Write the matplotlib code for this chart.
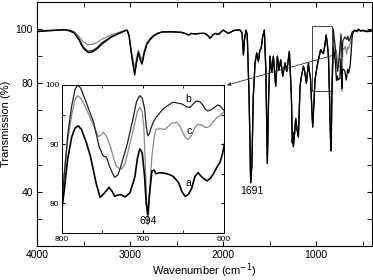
import matplotlib
matplotlib.use("Agg")
import matplotlib.pyplot as plt
from matplotlib.ticker import MultipleLocator, FixedLocator

plt.rcParams['font.family'] = ['Liberation Sans', 'DejaVu Sans']

# ---------------- main spectrum data (wavenumber, %T) ----------------
# high-frequency region (per curve)
hf_w = [4000, 3900, 3800, 3700, 3650, 3600, 3550, 3500, 3450, 3400, 3350, 3300, 3200, 3100, 3050, 3030,
        3010, 2980, 2950, 2930, 2910, 2890, 2870, 2850, 2820, 2790, 2750, 2700, 2650]
hf_a = [99.0, 99.3, 99.5, 99.7, 99.3, 98.5, 96.0, 92.8, 91.3, 91.6, 92.8, 94.5, 97.0, 98.6, 99.4, 99.5,
        97.3, 89.5, 83.0, 87.5, 91.3, 88.5, 87.0, 90.5, 94.2, 95.8, 97.3, 98.4, 98.9]
hf_b = [99.2, 99.4, 99.6, 99.8, 99.5, 98.8, 96.5, 93.3, 91.8, 92.1, 93.3, 95.0, 97.3, 98.8, 99.5, 99.6,
        97.5, 90.0, 83.5, 88.0, 91.5, 89.0, 87.5, 91.0, 94.5, 96.0, 97.5, 98.5, 99.0]
hf_c = [99.3, 99.5, 99.7, 99.8, 99.6, 99.0, 97.3, 95.2, 94.2, 94.4, 95.2, 96.3, 97.9, 99.0, 99.5, 99.6,
        97.8, 91.0, 85.5, 89.5, 92.3, 90.0, 88.8, 91.8, 95.0, 96.3, 97.7, 98.6, 99.0]

# fingerprint region (curves overlap)
fp_w = [2550, 2450, 2400, 2370, 2340, 2300, 2250, 2194, 2160, 2140, 2110, 2086, 2050, 2020, 1996, 1970,
        1943, 1900, 1871, 1817, 1795, 1781, 1770, 1753, 1740, 1720, 1703, 1690, 1675, 1656, 1638, 1620,
        1605, 1590, 1575, 1556, 1540, 1524, 1510, 1495, 1477, 1459, 1434, 1416, 1398, 1380, 1358, 1333,
        1315, 1287, 1265, 1255, 1250, 1244, 1230, 1219, 1205, 1190, 1172, 1160, 1136, 1120, 1104, 1082,
        1075, 1060, 1045, 1036, 1025, 1011, 990, 975, 950, 935, 921, 905, 892, 880, 867, 855, 845]
fp_t = [99.0, 98.8, 98.3, 97.8, 98.4, 98.2, 98.4, 98.4, 97.5, 96.6, 97.8, 98.4, 98.0, 99.0, 99.6, 99.0,
        98.4, 99.2, 99.6, 99.6, 98.5, 90.5, 96.0, 99.6, 98.0, 75.0, 43.3, 50.0, 75.0, 87.5, 91.2, 88.0,
        92.0, 93.0, 97.0, 99.6, 85.0, 50.5, 75.0, 90.0, 84.0, 90.0, 79.0, 90.0, 85.0, 88.7, 82.7, 87.5,
        84.4, 91.8, 75.0, 58.0, 62.0, 56.6, 62.0, 67.0, 63.0, 60.2, 79.0, 82.0, 86.3, 84.0, 80.0, 87.5,
        85.0, 82.0, 70.0, 63.9, 72.0, 81.5, 86.0, 88.7, 92.4, 91.5, 91.0, 94.0, 97.8, 95.0, 90.0, 75.0, 60.0]

# boxed region and tail (per curve)
lo_w_b = [838, 828, 814, 795, 781, 767, 752, 732, 722, 712, 691, 670, 658, 648, 633, 625, 610, 590,
          580, 560, 545, 520, 500, 450, 400]
lo_b = [56.0, 80.0, 100.0, 93.5, 88.0, 84.4, 89.7, 98.2, 89.7, 95.6, 97.1, 96.2, 97.3, 95.6, 96.5, 97.5,
        99.0, 99.5, 99.6, 99.3, 100.0, 99.4, 99.6, 99.3, 99.5]
lo_w_c = [838, 828, 814, 795, 781, 761, 754, 732, 722, 712, 701, 686, 672, 660, 649, 633, 625, 610, 590,
          580, 560, 545, 520, 500, 450, 400]
lo_c = [58.0, 82.0, 98.2, 93.1, 92.0, 86.3, 85.8, 96.2, 77.0, 92.8, 92.5, 93.7, 90.8, 93.4, 92.8, 94.8,
        96.0, 99.0, 99.5, 99.5, 99.2, 99.8, 99.3, 99.5, 99.2, 99.4]
lo_w_a = [838, 828, 812, 793, 781, 770, 763, 756, 744, 732, 722, 717, 707, 691, 676, 660, 649, 633, 625,
          610, 590, 580, 560, 545, 520, 500, 450, 400]
lo_a = [55.0, 79.0, 93.1, 88.0, 81.0, 82.7, 81.2, 81.5, 81.8, 89.2, 78.1, 84.9, 85.2, 84.6, 81.2, 85.2,
        83.8, 86.9, 90.3, 98.0, 99.3, 99.4, 99.0, 99.7, 99.2, 99.4, 99.0, 99.3]

main_w_a = hf_w + fp_w + lo_w_a
main_w_b = hf_w + fp_w + lo_w_b
main_w_c = hf_w + fp_w + lo_w_c
main_t_a = hf_a + fp_t + lo_a
main_t_b = hf_b + fp_t + lo_b
main_t_c = hf_c + fp_t + lo_c

# ---------------- inset data (800-600 cm-1) ----------------
in_w_a = [800, 797, 793, 788, 784, 780, 776, 770, 765, 758, 753, 748, 742, 738, 735, 731, 728, 725, 722,
          716, 710, 707, 704, 701, 698, 696, 694, 692, 689, 686, 684, 679, 670, 663, 656, 652, 648, 644,
          640, 636, 632, 629, 626, 621, 617, 613, 608, 605, 602, 599]
in_a = [79.0, 82.5, 87.5, 91.2, 92.7, 93.1, 92.5, 90.3, 88.0, 83.5, 81.0, 81.7, 82.7, 82.0, 81.2, 81.4,
        81.5, 81.3, 81.1, 81.8, 84.5, 87.5, 89.2, 88.6, 84.5, 80.0, 78.1, 81.5, 85.5, 85.6, 85.0, 85.2,
        85.0, 84.6, 83.5, 82.0, 81.2, 81.5, 82.5, 84.5, 85.2, 84.7, 84.3, 83.8, 84.2, 85.0, 86.3, 86.9,
        88.3, 90.3]
in_w_b = [800, 797, 793, 788, 784, 781, 777, 770, 761, 754, 749, 745, 742, 738, 735, 731, 728, 720, 712,
          708, 704, 701, 698, 696, 694, 692, 690, 687, 684, 675, 663, 652, 646, 642, 638, 634, 630, 626,
          623, 620, 616, 612, 608, 605, 602, 599]
in_b = [80.5, 85.0, 91.5, 96.5, 99.2, 100.0, 99.5, 97.0, 93.7, 89.5, 88.0, 87.8, 86.5, 85.2, 84.4, 84.8,
        86.0, 89.7, 94.5, 97.2, 98.2, 97.8, 96.0, 93.0, 91.4, 91.8, 92.8, 93.8, 94.5, 96.0, 97.1, 96.8,
        96.3, 96.2, 96.8, 97.3, 97.2, 96.6, 95.9, 95.6, 95.8, 96.2, 96.6, 96.5, 96.0, 95.6]
in_w_c = [800, 797, 793, 788, 784, 781, 777, 770, 761, 755, 752, 749, 745, 740, 736, 733, 729, 726, 722,
          718, 711, 707, 704, 701, 699, 697, 695, 694, 693, 691, 689, 686, 684, 679, 673, 665, 658, 654,
          651, 647, 644, 640, 636, 632, 627, 624, 621, 617, 613, 609, 605, 602, 599]
in_c = [82.0, 85.5, 90.5, 95.0, 97.5, 98.2, 97.8, 96.0, 93.1, 91.3, 91.5, 92.0, 91.3, 89.5, 87.5, 86.3,
        85.9, 85.8, 86.8, 89.0, 93.0, 95.5, 96.2, 95.5, 93.0, 86.0, 78.5, 76.4, 78.5, 84.0, 88.0, 91.3,
        92.5, 92.6, 92.5, 93.5, 93.7, 93.0, 92.0, 91.0, 90.8, 91.5, 92.8, 93.4, 93.2, 92.9, 92.8, 93.1,
        93.8, 94.5, 94.8, 95.2, 95.6]

main_xticks = [4000, 3000, 2000, 1000]
main_yticks = [40, 60, 80, 100]
inset_xticks = [800, 700, 600]
inset_yticks = [80, 90, 100]

GREY = '#8a8a8a'

fig = plt.figure(figsize=(3.73, 2.80), dpi=100)
ax = fig.add_axes([0.0992, 0.1214, 0.8978, 0.8716])

ax.plot(main_w_c, main_t_c, color=GREY, lw=0.9)
ax.plot(main_w_b, main_t_b, color='#202020', lw=0.9)
ax.plot(main_w_a, main_t_a, color='black', lw=0.9)

ax.set_xlim(4000, 400)
ax.set_ylim(20, 110)
ax.xaxis.set_major_locator(FixedLocator(main_xticks))
ax.xaxis.set_minor_locator(MultipleLocator(500))
ax.yaxis.set_major_locator(FixedLocator(main_yticks))
ax.yaxis.set_minor_locator(MultipleLocator(10))
ax.tick_params(which='both', direction='in', top=True, right=True, labelsize=7.5, pad=3)
ax.tick_params(which='major', length=3.5)
ax.tick_params(which='minor', length=3.5)
ax.set_xlabel('Wavenumber (cm$^{-1}$)', fontsize=8, labelpad=1)
ax.set_ylabel('Transmission (%)', fontsize=8, labelpad=3)
for s in ax.spines.values():
    s.set_linewidth(0.8)

ax.text(1688, 40.3, '1691', fontsize=7.5, ha='center', va='center')

# box around 800-600 region
ax.add_patch(plt.Rectangle((828, 77), 828 - 612, 24, transform=ax.transData,
                           fill=False, ec='#404040', lw=0.7))

# inset
ins = fig.add_axes([0.1662, 0.1679, 0.4343, 0.5286])
ins.plot(in_w_c, in_c, color=GREY, lw=0.9)
ins.plot(in_w_b, in_b, color='#202020', lw=0.9)
ins.plot(in_w_a, in_a, color='black', lw=1.2)
ins.set_xlim(800, 600)
ins.set_ylim(75, 100)
ins.xaxis.set_major_locator(FixedLocator(inset_xticks))
ins.xaxis.set_minor_locator(MultipleLocator(50))
ins.yaxis.set_major_locator(FixedLocator(inset_yticks))
ins.yaxis.set_minor_locator(MultipleLocator(5))
ins.tick_params(which='both', direction='in', top=True, right=True, labelsize=6, length=2.5, pad=2)
for s in ins.spines.values():
    s.set_linewidth(0.7)
ins.text(694, 77.1, '694', fontsize=7.5, ha='center', va='center')
ins.text(644, 97.6, 'b', fontsize=7.5, ha='center', va='center')
ins.text(643, 92.2, 'c', fontsize=7.5, ha='center', va='center')
ins.text(644, 83.4, 'a', fontsize=7.5, ha='center', va='center')

# arrow from box to inset
ax.annotate('', xy=(0.6085, 0.696), xycoords='figure fraction',
            xytext=(830, 90.2), textcoords='data',
            arrowprops=dict(arrowstyle='-|>', color='#303030', lw=0.6,
                            mutation_scale=5, shrinkA=0, shrinkB=0))

fig.savefig('out.png', dpi=100)
